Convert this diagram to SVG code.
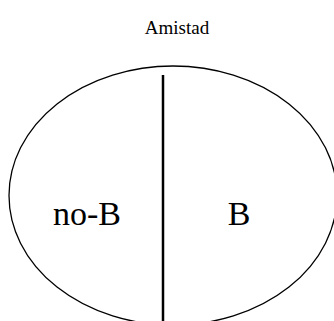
<svg xmlns="http://www.w3.org/2000/svg" width="334" height="321" viewBox="0 0 334 321">
<style>
text{font-family:"Liberation Serif","Times New Roman",Times,serif;fill:#000}
</style>
<rect width="334" height="321" fill="#fff"/>
<g id="set">
<ellipse cx="173" cy="195.5" rx="164" ry="129.5" fill="none" stroke="#000" stroke-width="1.3"/>
</g>
<g id="connectors">
<line x1="163" y1="75" x2="163" y2="321" stroke="#000" stroke-width="2.5"/>
</g>
<g id="title"><text x="177" y="34" font-size="19" text-anchor="middle">Amistad</text></g>
<g id="noB"><text x="87" y="225" font-size="34" text-anchor="middle">no-B</text></g>
<g id="B"><text x="239" y="225" font-size="34" text-anchor="middle">B</text></g>
</svg>
